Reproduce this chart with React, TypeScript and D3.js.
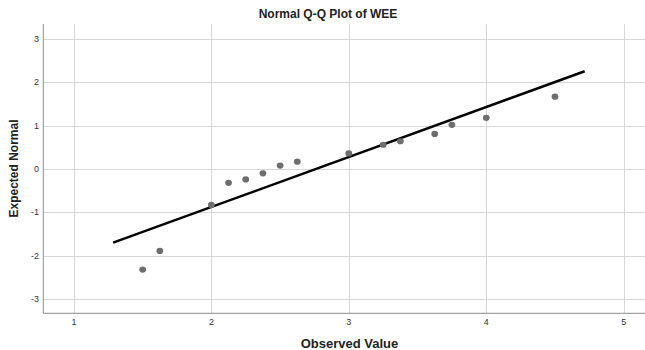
import React, { useEffect, useRef } from "react";
import * as d3 from "d3";

const observed = [1.5, 1.625, 2.0, 2.125, 2.25, 2.375, 2.5, 2.625, 3.0, 3.25, 3.375, 3.625, 3.75, 4.0, 4.5];
const expected = [-2.32, -1.89, -0.83, -0.32, -0.24, -0.1, 0.08, 0.17, 0.36, 0.56, 0.64, 0.81, 1.02, 1.18, 1.67];

// reference line endpoints
const lineX = [1.285, 4.716];
const lineY = [-1.7, 2.255];

const xTicks = [1, 2, 3, 4, 5];
const yTicks = [-3, -2, -1, 0, 1, 2, 3];

const W = 645;
const H = 350;
const FONT = "'Liberation Sans', Arial, sans-serif";

const App: React.FC = () => {
  const ref = useRef<SVGSVGElement>(null);

  useEffect(() => {
    if (!ref.current) return;
    const svg = d3.select(ref.current);
    svg.selectAll("*").remove();

    const left = 43.3;
    const right = 645;
    const top = 24;
    const bottom = 313.3;

    const x = d3.scaleLinear().domain([0.777, 5.155]).range([left, right]);
    const y = d3.scaleLinear().domain([-3.33, 3.346]).range([bottom, top]);

    svg.append("rect").attr("width", W).attr("height", H).attr("fill", "#fff");

    // grid
    const grid = svg.append("g").attr("stroke", "#d6d6d6").attr("stroke-width", 1);
    grid
      .selectAll("line.v")
      .data(xTicks)
      .join("line")
      .attr("x1", (d) => Math.round(x(d)) + 0.5)
      .attr("x2", (d) => Math.round(x(d)) + 0.5)
      .attr("y1", top)
      .attr("y2", bottom);
    grid
      .selectAll("line.h")
      .data(yTicks)
      .join("line")
      .attr("x1", left)
      .attr("x2", right)
      .attr("y1", (d) => Math.round(y(d)) + 0.5)
      .attr("y2", (d) => Math.round(y(d)) + 0.5);

    // axes lines
    svg
      .append("line")
      .attr("x1", left)
      .attr("x2", left)
      .attr("y1", top)
      .attr("y2", bottom)
      .attr("stroke", "#8c8c8c")
      .attr("stroke-width", 1);
    svg
      .append("line")
      .attr("x1", left)
      .attr("x2", right)
      .attr("y1", bottom)
      .attr("y2", bottom)
      .attr("stroke", "#8c8c8c")
      .attr("stroke-width", 1);

    // tick labels
    svg
      .append("g")
      .selectAll("text")
      .data(xTicks)
      .join("text")
      .attr("x", (d) => x(d))
      .attr("y", 325)
      .attr("text-anchor", "middle")
      .attr("font-family", FONT)
      .attr("font-size", 9)
      .attr("fill", "#333")
      .text((d) => d);
    svg
      .append("g")
      .selectAll("text")
      .data(yTicks)
      .join("text")
      .attr("x", 39)
      .attr("y", (d) => y(d) + 3)
      .attr("text-anchor", "end")
      .attr("font-family", FONT)
      .attr("font-size", 9)
      .attr("fill", "#333")
      .text((d) => d);

    // reference line
    const line = d3
      .line<number>()
      .x((d) => x(d))
      .y((_, i) => y(lineY[i]));
    svg
      .append("path")
      .datum(lineX)
      .attr("fill", "none")
      .attr("stroke", "#000")
      .attr("stroke-width", 2.5)
      .attr("d", line);

    // points
    svg
      .append("g")
      .selectAll("ellipse")
      .data(observed)
      .join("ellipse")
      .attr("cx", (d) => x(d))
      .attr("cy", (_, i) => y(expected[i]))
      .attr("rx", 3.4)
      .attr("ry", 3.1)
      .attr("fill", "#6e6e6e");

    // titles
    svg
      .append("text")
      .attr("x", 328)
      .attr("y", 18)
      .attr("text-anchor", "middle")
      .attr("font-family", FONT)
      .attr("font-weight", "bold")
      .attr("font-size", 12)
      .attr("fill", "#222")
      .text("Normal Q-Q Plot of WEE");

    svg
      .append("text")
      .attr("x", 349.5)
      .attr("y", 347.8)
      .attr("text-anchor", "middle")
      .attr("font-family", FONT)
      .attr("font-weight", "bold")
      .attr("font-size", 13)
      .attr("fill", "#222")
      .text("Observed Value");

    svg
      .append("text")
      .attr("transform", `translate(18,168.5) rotate(-90)`)
      .attr("text-anchor", "middle")
      .attr("font-family", FONT)
      .attr("font-weight", "bold")
      .attr("font-size", 12)
      .attr("fill", "#222")
      .text("Expected Normal");
  }, []);

  return (
    <div style={{ position: "absolute", left: 0, top: 0 }}>
      <svg ref={ref} width={W} height={H} style={{ display: "block" }} />
    </div>
  );
};

export default App;
